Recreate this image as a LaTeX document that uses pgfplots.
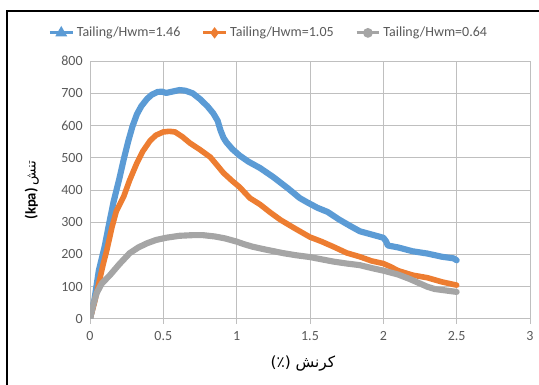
\documentclass[border=0pt]{standalone}
\usepackage{pgfplots}
\pgfplotsset{compat=1.18}
\usepackage{fontspec}
\setmainfont{Carlito}
\newfontfamily\arabicfont[Script=Arabic]{DejaVu Sans}
\TeXXeTstate=1
\definecolor{sblue}{HTML}{5B9BD5}
\definecolor{sorange}{HTML}{ED7D31}
\definecolor{sgrey}{HTML}{A5A5A5}
\definecolor{gridgray}{HTML}{BFBFBF}
\definecolor{ticklab}{HTML}{595959}
\begin{document}
\begin{tikzpicture}
\useasboundingbox (0,0) rectangle (404.25pt,288.75pt);
\draw[line width=1.1pt, color=black] (5.25pt,-2pt) -- (5.25pt,280.5pt) -- (406pt,280.5pt);
\begin{axis}[
 at={(67.5pt,49.5pt)}, anchor=south west,
 scale only axis, width=330pt, height=193.5pt,
 xmin=0, xmax=3, ymin=0, ymax=800,
 xtick={0,0.5,1,1.5,2,2.5,3}, ytick={0,100,...,800},
 xticklabels={0,0.5,1,1.5,2,2.5,3},
 grid=major, grid style={color=gridgray, line width=0.75pt},
 axis x line*=bottom, axis y line*=left,
 x axis line style={color=gridgray, line width=0.75pt, -},
 y axis line style={draw=none},
 xtick align=outside, major tick length=3.5pt,
 ytick style={draw=none},
 xtick style={color=gridgray, line width=0.75pt},
 tick label style={font=\fontsize{10.5}{12}\selectfont, color=ticklab},
 /pgf/number format/assume math mode=true,
 yticklabel style={xshift=-2pt},
 xticklabel style={yshift=-2pt},
 xlabel={{\arabicfont\fontsize{11.5}{13}\selectfont (٪) \beginR کرنش\endR}},
 xlabel style={at={(axis description cs:0.484,-0.171)}, anchor=center, color=black},
 ylabel={{\fontsize{11}{13}\selectfont\bfseries (kpa)} {\arabicfont\fontsize{10}{12}\selectfont\beginR تنش\endR}},
 ylabel style={at={(axis description cs:-0.132,0.5)}, anchor=center, color=black},
 legend columns=3,
 legend style={draw=none, fill=none, at={(0.407,1.109)}, anchor=center,
   font=\fontsize{10.5}{12}\selectfont, text=ticklab,
   /tikz/every even column/.append style={column sep=14pt}},
 legend cell align=left,
]
\addlegendimage{sblue, line width=2.2pt, mark=triangle*, mark size=3pt, mark options={solid}}
\addlegendentry{Tailing/Hwm=1.46}
\addlegendimage{sorange, line width=2.2pt, mark=diamond*, mark size=2.5pt}
\addlegendentry{Tailing/Hwm=1.05}
\addlegendimage{sgrey, line width=2.2pt, mark=*, mark size=2.5pt}
\addlegendentry{Tailing/Hwm=0.64}
\addplot[sblue, line width=4.6pt, line join=round, line cap=round, forget plot] coordinates {
(0,0) (0.03,60) (0.06,150) (0.10,225) (0.13,295) (0.16,362) (0.20,435) (0.23,495) (0.26,550) (0.29,598) (0.32,635) (0.35,660) (0.39,683) (0.42,695) (0.46,704) (0.49,705) (0.52,701) (0.56,705) (0.61,710) (0.65,708) (0.70,700) (0.75,682) (0.80,660) (0.84,638) (0.87,615) (0.89,585) (0.91,562) (0.93,548) (0.97,527) (1.02,507) (1.08,488) (1.16,468) (1.25,440) (1.35,405) (1.43,375) (1.48,362) (1.55,345) (1.62,332) (1.70,308) (1.78,287) (1.84,272) (1.92,262) (2.0,252) (2.02,240) (2.03,228) (2.1,222) (2.2,210) (2.3,203) (2.4,193) (2.48,188) (2.5,182)
};
\addplot[sorange, line width=4.2pt, line join=round, line cap=round, forget plot] coordinates {
(0,0) (0.03,50) (0.06,110) (0.09,170) (0.115,214) (0.15,285) (0.18,335) (0.23,380) (0.27,430) (0.32,484) (0.36,520) (0.41,553) (0.45,570) (0.50,580) (0.54,582) (0.58,580) (0.63,565) (0.68,546) (0.75,525) (0.82,502) (0.87,475) (0.91,453) (0.97,428) (1.02,409) (1.09,375) (1.16,355) (1.23,330) (1.30,307) (1.40,280) (1.5,254) (1.58,240) (1.66,224) (1.75,205) (1.84,193) (1.92,180) (2.0,172) (2.05,162) (2.1,150) (2.2,136) (2.3,128) (2.4,115) (2.5,105)
};
\addplot[sgrey, line width=4.6pt, line join=round, line cap=round, forget plot] coordinates {
(0,0) (0.02,40) (0.045,80) (0.08,110) (0.136,136) (0.2,170) (0.27,204) (0.33,222) (0.39,235) (0.45,245) (0.52,252) (0.61,258) (0.70,260) (0.77,260) (0.85,256) (0.92,250) (1.0,240) (1.05,232) (1.11,224) (1.2,215) (1.32,204) (1.4,198) (1.5,192) (1.58,185) (1.66,178) (1.75,172) (1.84,167) (1.92,158) (2.0,150) (2.1,138) (2.18,124) (2.24,112) (2.3,100) (2.35,93) (2.4,90) (2.5,84)
};
\end{axis}
\end{tikzpicture}
\end{document}
